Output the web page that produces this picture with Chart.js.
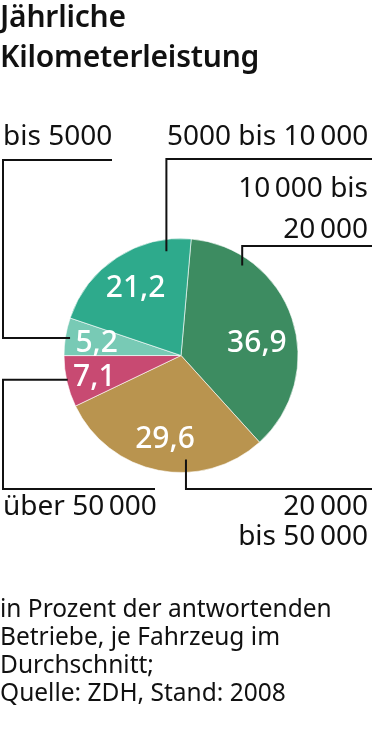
<!DOCTYPE html>
<html>
<head>
<meta charset="utf-8">
<script src="https://cdn.jsdelivr.net/npm/chart.js@4.4.1/dist/chart.umd.min.js"></script>
<style>
  html, body { margin:0; padding:0; background:#fff; }
  #wrap { position:relative; width:372px; height:732px; overflow:hidden; font-family:"Noto Sans", sans-serif; color:#111; }
  #title { position:absolute; left:0; top:-4px; font-size:30px; font-weight:600; line-height:39.5px; letter-spacing:-0.2px; }
  #note { position:absolute; left:0; top:594px; font-size:24.5px; line-height:28px; }
  canvas { position:absolute; left:0; top:0; }
</style>
</head>
<body>
<div id="wrap">
  <canvas id="pie" width="372" height="732"></canvas>
  <div id="title">Jährliche<br>Kilometerleistung</div>
  <div id="note">in Prozent der antwortenden<br>Betriebe, je Fahrzeug im<br>Durchschnitt;<br>Quelle: ZDH, Stand: 2008</div>
</div>
<script>
// ===== DATA =====
const NB = '\u202F'
const categories = [
  ['10' + NB + '000 bis', '20' + NB + '000'],
  ['20' + NB + '000', 'bis 50' + NB + '000'],
  ['über 50' + NB + '000'],
  ['bis 5000'],
  ['5000 bis 10' + NB + '000'],
]
const shares = [36.9, 29.6, 7.1, 5.2, 21.2]
const valueLabels = ['36,9', '29,6', '7,1', '5,2', '21,2']
const colors = ['#3d8c61', '#b9944f', '#c84a72', '#78cab5', '#2eaa8c']

// label text layout + leader lines (anchor on slice, then elbows)
const labelLayout = [
  { x:368, y:[197, 238], align:'right', t:0.22, r:0.93, path:[['v',246],['h',372]] },
  { x:368, y:[515, 545], align:'right', t:0.37, r:0.89, path:[['v',489],['h',372]] },
  { x:3,   y:[515],      align:'left',  t:0.53, r:0.99, path:[['h',3],['v',489],['h',155]] },
  { x:3,   y:[145],      align:'left',  t:0.48, r:0.96, path:[['h',3],['v',160],['h',112]] },
  { x:167, y:[145],      align:'left',  t:0.83, r:0.90, path:[['v',159],['h',372]] },
]
const valueRadius = [0.66, 0.71, 0.76, 0.73, 0.71]
const valueTurn = [0.06, 0, 0, 0, 0] // small angular nudge (fraction of slice)

const calloutPlugin = {
  id:'callouts',
  afterDatasetsDraw(chart) {
    const ctx = chart.ctx
    const arcs = chart.getDatasetMeta(0).data
    ctx.save()
    arcs.forEach((arc, i) => {
      const { x, y, startAngle, endAngle, outerRadius } = arc.getProps(['x','y','startAngle','endAngle','outerRadius'], true)
      // value in slice
      const mid = (startAngle + endAngle) / 2 + (endAngle - startAngle) * valueTurn[i]
      const vr = outerRadius * valueRadius[i]
      ctx.fillStyle = '#fff'
      ctx.font = '500 30px "Noto Sans"'
      ctx.textAlign = 'center'
      ctx.textBaseline = 'middle'
      ctx.fillText(valueLabels[i], x + Math.cos(mid) * vr, y + Math.sin(mid) * vr + 2)

      // leader line
      const L = labelLayout[i]
      const a = startAngle + (endAngle - startAngle) * L.t
      let px = x + Math.cos(a) * outerRadius * L.r
      let py = y + Math.sin(a) * outerRadius * L.r
      ctx.strokeStyle = '#111'
      ctx.lineWidth = 2
      ctx.beginPath()
      ctx.moveTo(px, py)
      L.path.forEach(([d, v]) => {
        if (d === 'h') px = v; else py = v
        ctx.lineTo(px, py)
      })
      ctx.stroke()

      // category text
      ctx.fillStyle = '#111'
      ctx.font = '28px "Noto Sans"'
      ctx.textAlign = L.align
      ctx.textBaseline = 'alphabetic'
      categories[i].forEach((line, j) => ctx.fillText(line, L.x, L.y[j]))
    })
    ctx.restore()
  }
}

new Chart(document.getElementById('pie'), {
  type:'pie',
  data:{
    labels: categories,
    datasets:[{
      data: shares,
      backgroundColor: colors,
      borderColor:'rgba(255,255,255,0.6)',
      borderWidth:1,
    }]
  },
  options:{
    responsive:false,
    animation:false,
    rotation:5,
    layout:{ padding:{ left:63.5, right:73.5, top:238, bottom:259 } },
    plugins:{ legend:{ display:false }, tooltip:{ enabled:false } },
  },
  plugins:[calloutPlugin]
})
</script>
</body>
</html>
